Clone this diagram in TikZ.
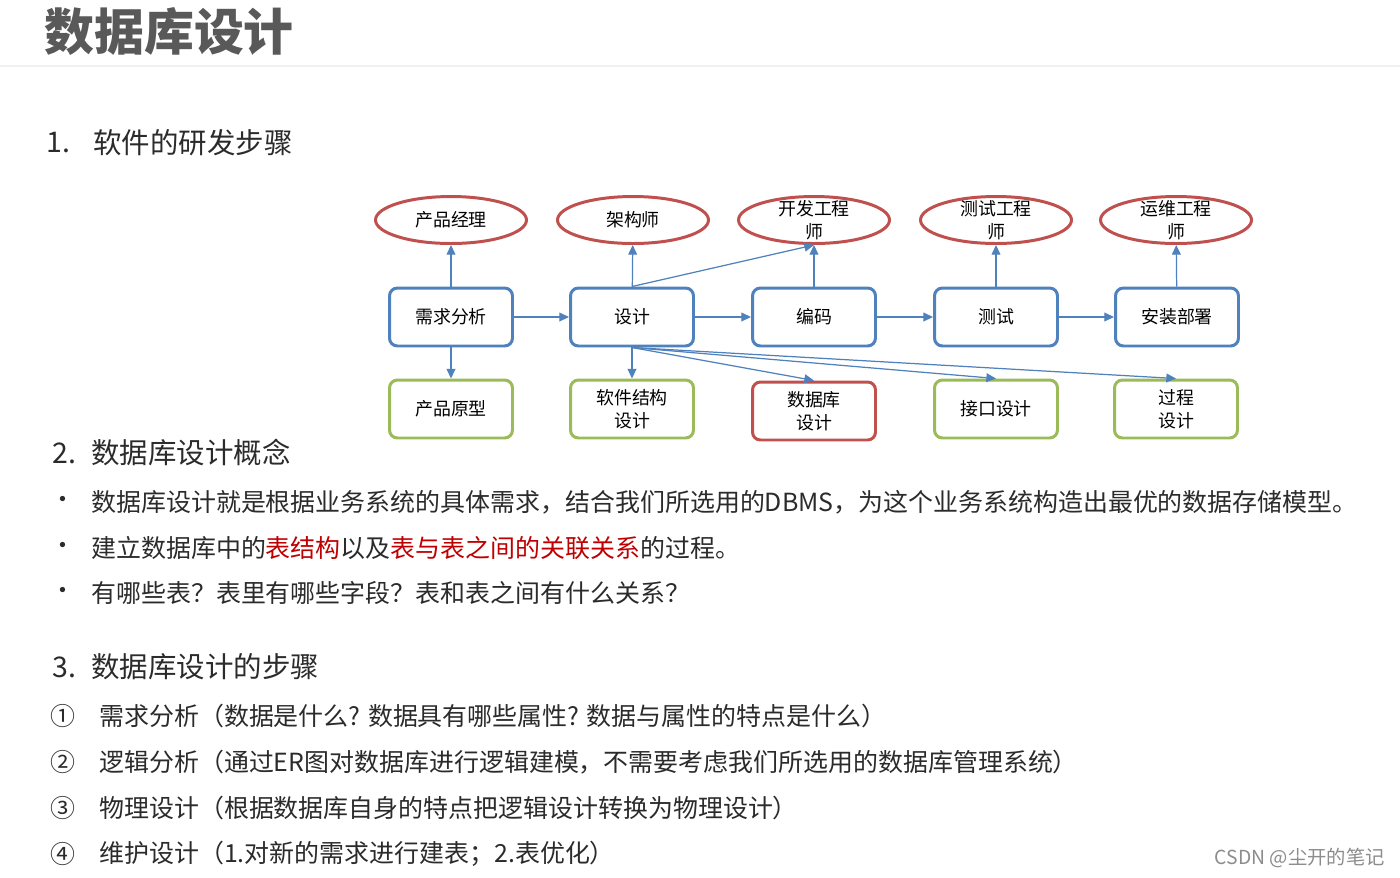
\documentclass[tikz,border=0pt]{standalone}
\usepackage{fontspec}
\setmainfont{Noto Sans CJK SC}
\usepackage{xcolor}
\usetikzlibrary{arrows.meta,shapes.geometric}

\definecolor{boxblue}{HTML}{4F81BD}
\definecolor{boxred}{HTML}{C0504D}
\definecolor{boxgreen}{HTML}{9BBB59}
\definecolor{textgray}{HTML}{2B2B2B}
\definecolor{titlegray}{HTML}{595959}
\definecolor{markred}{HTML}{C00000}

\begin{document}
\begin{tikzpicture}[x=0.02cm,y=-0.02cm,
		stepbox/.style={draw=boxblue,line width=1.7pt,rounded corners=4.5pt,minimum width=2.46cm,minimum height=1.16cm,font=\fontsize{10.2}{13}\selectfont,align=center},
		outbox/.style={stepbox,draw=boxgreen},
		dbbox/.style={stepbox,draw=boxred},
		rolle/.style={draw=boxred,line width=1.7pt,ellipse,minimum width=3.02cm,minimum height=0.94cm,inner sep=0pt},
		rolletext/.style={font=\fontsize{10.2}{13}\selectfont,align=center,inner sep=0pt},
		pfeil/.style={draw=boxblue,line width=0.7pt,-{Triangle[length=5.5pt,width=5pt]}},
		headtext/.style={font=\fontsize{16.2}{20}\selectfont,text=textgray,anchor=west,inner sep=0pt},
		bodytext/.style={font=\fontsize{14.2}{18}\selectfont,text=textgray,anchor=west,inner sep=0pt}]
		\useasboundingbox[fill=white] (0,0) rectangle (1400,877);

		% Titel
		\node[font=\fontsize{28.4}{34}\selectfont\bfseries,text=titlegray,anchor=west,inner sep=0pt] (titel) at (44,32) {数据库设计};
		\draw[black!6,line width=0.6pt] (0,66) -- (1400,66);

		% Abschnitt 1
		\node[headtext] (h1n) at (46,143) {1.};
		\node[headtext] (h1) at (93,143) {软件的研发步骤};

		% Schritte
		\node[stepbox] (req) at (451,317) {需求分析};
		\node[stepbox] (des) at (632,317) {设计};
		\node[stepbox] (code) at (814,317) {编码};
		\node[stepbox] (test) at (996,317) {测试};
		\node[stepbox] (deploy) at (1177,317) {安装部署};

		% Rollen
		\node[rolle,label={[rolletext]center:产品经理}] (pm) at (451,220) {};
		\node[rolle,label={[rolletext]center:架构师}] (arch) at (633,220) {};
		\node[rolle,label={[rolletext]center:{开发工程\\师}}] (dev) at (814,220) {};
		\node[rolle,label={[rolletext]center:{测试工程\\师}}] (qa) at (996,220) {};
		\node[rolle,label={[rolletext]center:{运维工程\\师}}] (ops) at (1176,220) {};

		% Ergebnisse
		\node[outbox] (proto) at (451,409) {产品原型};
		\node[outbox] (struct) at (632,409) {软件结构\\设计};
		\node[dbbox] (db) at (814,411) {数据库\\设计};
		\node[outbox] (iface) at (996,409) {接口设计};
		\node[outbox] (proc) at (1176,409) {过程\\设计};

		% Pfeile
		\draw[pfeil] (req) -- (des);
		\draw[pfeil] (des) -- (code);
		\draw[pfeil] (code) -- (test);
		\draw[pfeil] (test) -- (deploy);
		\draw[pfeil] (req) -- (pm);
		\draw[pfeil] (des) -- (arch);
		\draw[pfeil] (code) -- (dev);
		\draw[pfeil] (test) -- (qa);
		\draw[pfeil] (deploy) -- (ops);
		\draw[pfeil] (des.north) -- (dev.south);
		\draw[pfeil] (req) -- (proto);
		\draw[pfeil] (des) -- (struct);
		\draw[pfeil] (des.south) -- (db.north);
		\draw[pfeil] (des.south) -- (iface.north);
		\draw[pfeil] (des.south) -- (proc.north);

		% Abschnitt 2
		\node[headtext] (h2n) at (52,453) {2.};
		\node[headtext] (h2) at (91,453) {数据库设计概念};
		\node[bodytext] (b1) at (50,502) {•};
		\node[bodytext] (t1) at (91,502) {数据库设计就是根据业务系统的具体需求，结合我们所选用的DBMS，为这个业务系统构造出最优的数据存储模型。};
		\node[bodytext] (b2) at (50,548) {•};
		\node[bodytext] (t2) at (91,548) {建立数据库中的\textcolor{markred}{表结构}以及\textcolor{markred}{表与表之间的关联关系}的过程。};
		\node[bodytext] (b3) at (50,593) {•};
		\node[bodytext] (t3) at (91,593) {有哪些表？表里有哪些字段？表和表之间有什么关系？};

		% Abschnitt 3
		\node[headtext] (h3n) at (52,667) {3.};
		\node[headtext] (h3) at (91,667) {数据库设计的步骤};
		\node[bodytext] (n1) at (50,716) {①};
		\node[bodytext] (s1) at (99,716) {需求分析（数据是什么? 数据具有哪些属性? 数据与属性的特点是什么）};
		\node[bodytext] (n2) at (50,762) {②};
		\node[bodytext] (s2) at (99,762) {逻辑分析（通过ER图对数据库进行逻辑建模，不需要考虑我们所选用的数据库管理系统）};
		\node[bodytext] (n3) at (50,808) {③};
		\node[bodytext] (s3) at (99,808) {物理设计（根据数据库自身的特点把逻辑设计转换为物理设计）};
		\node[bodytext] (n4) at (50,854) {④};
		\node[bodytext] (s4) at (99,854) {维护设计（1.对新的需求进行建表；2.表优化）};

		% Wasserzeichen
		\node[font=\fontsize{11}{13}\selectfont,text=black!45,anchor=east,inner sep=0pt] (wz) at (1385,858) {CSDN @尘开的笔记};
	\end{tikzpicture}
\end{document}
